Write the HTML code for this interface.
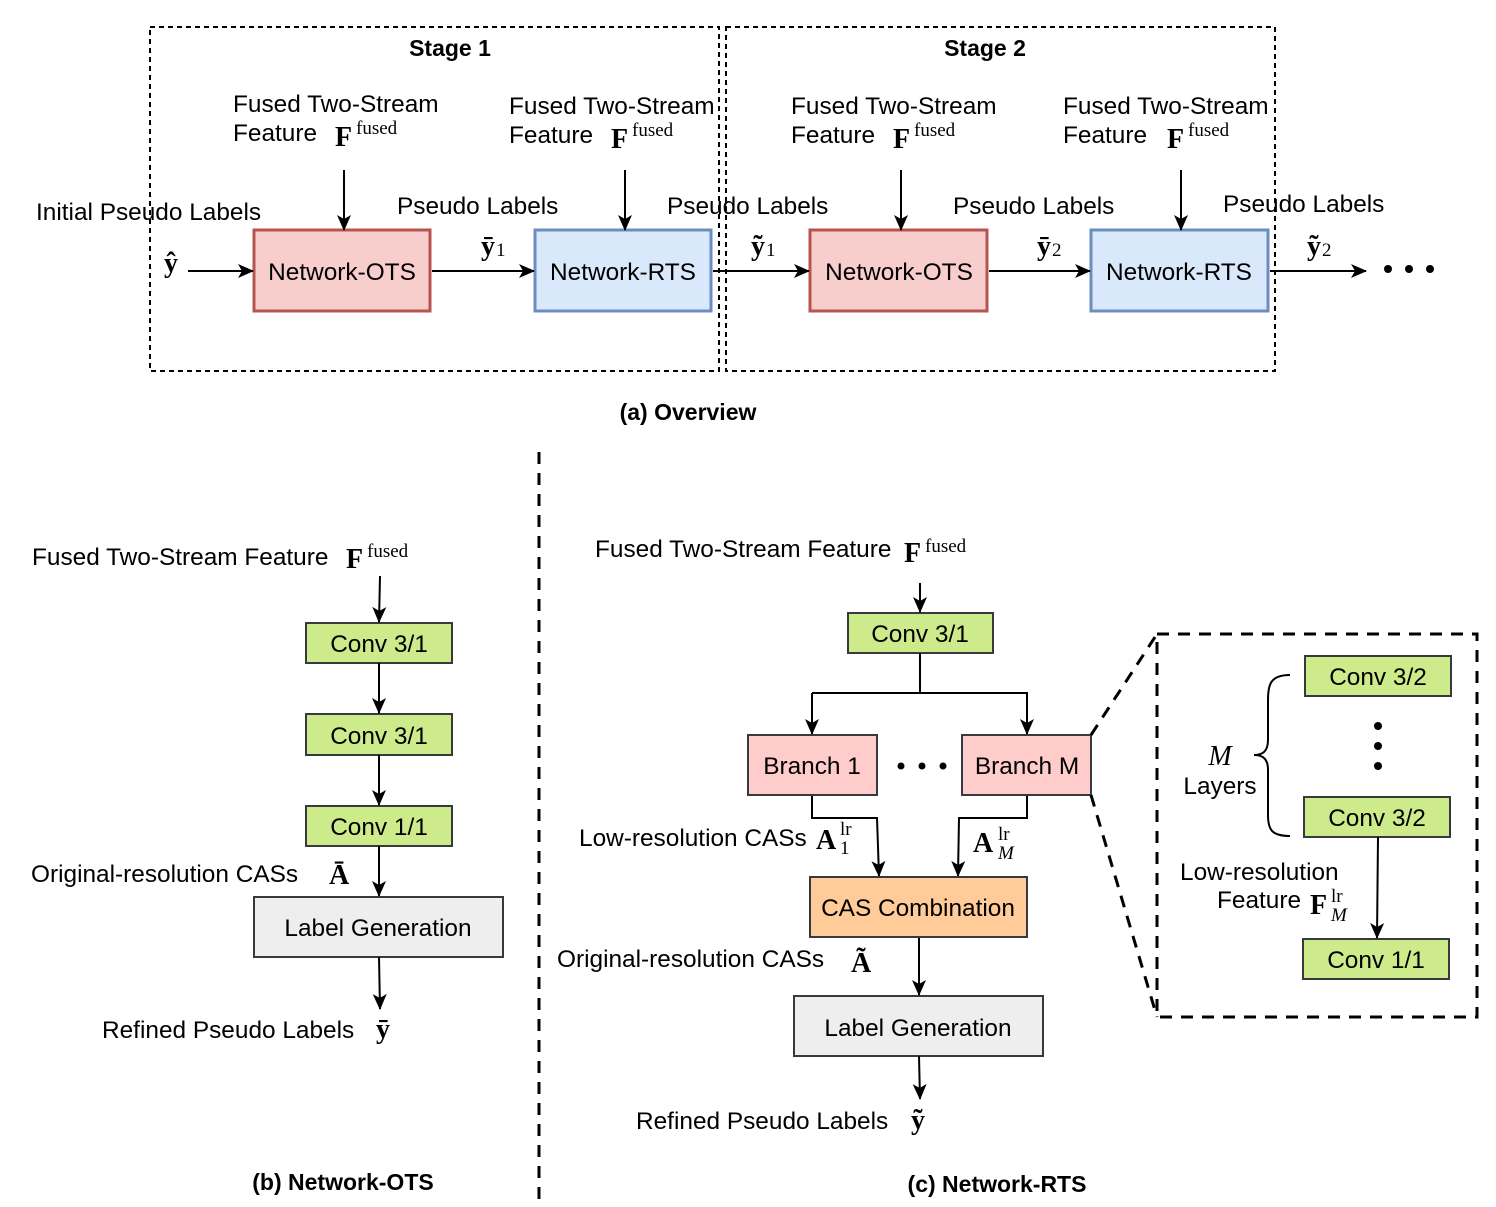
<!DOCTYPE html>
<html><head><meta charset="utf-8"><style>
html,body{margin:0;padding:0;background:#fff;}
svg{display:block;}
text{font-family:"Liberation Sans",sans-serif;font-size:24.4px;fill:#000;}
.m{font-family:"Liberation Serif",serif;font-weight:bold;font-size:28px;}
.s{font-family:"Liberation Serif",serif;font-size:19px;}
.si{font-family:"Liberation Serif",serif;font-size:19px;font-style:italic;}
.b{font-weight:bold;font-size:23px;}
</style></head><body>
<svg width="1496" height="1207" viewBox="0 0 1496 1207" xmlns="http://www.w3.org/2000/svg">
<defs>
<marker id="a" markerWidth="16" markerHeight="16" refX="15" refY="8" orient="auto" markerUnits="userSpaceOnUse">
<path d="M0,1 L16,8 L0,15 L4,8 Z" fill="#000"/></marker>
</defs>
<g fill="none" stroke="#000" stroke-width="2" stroke-dasharray="5,4">
<rect x="150" y="27" width="569" height="344"/>
<rect x="726" y="27" width="549" height="344"/>
</g>
<text x="450" y="56" text-anchor="middle" class="b">Stage 1</text>
<text x="985" y="56" text-anchor="middle" class="b">Stage 2</text>

<text x="233" y="112">Fused Two-Stream</text>
<text x="233" y="141">Feature</text>
<text x="335" y="146" class="m">F</text><text x="356" y="134" class="s">fused</text>
<text x="509" y="114">Fused Two-Stream</text>
<text x="509" y="143">Feature</text>
<text x="611" y="148" class="m">F</text><text x="632" y="136" class="s">fused</text>
<text x="791" y="114">Fused Two-Stream</text>
<text x="791" y="143">Feature</text>
<text x="893" y="148" class="m">F</text><text x="914" y="136" class="s">fused</text>
<text x="1063" y="114">Fused Two-Stream</text>
<text x="1063" y="143">Feature</text>
<text x="1167" y="148" class="m">F</text><text x="1188" y="136" class="s">fused</text>

<text x="36" y="220">Initial Pseudo Labels</text>
<text x="397" y="214">Pseudo Labels</text>
<text x="667" y="214">Pseudo Labels</text>
<text x="953" y="214">Pseudo Labels</text>
<text x="1223" y="212">Pseudo Labels</text>

<text x="164" y="272" class="m">ŷ</text>
<text x="481" y="255" class="m">ȳ</text><text x="496" y="256" class="s">1</text>
<text x="751" y="255" class="m">ỹ</text><text x="766" y="256" class="s">1</text>
<text x="1037" y="255" class="m">ȳ</text><text x="1052" y="256" class="s">2</text>
<text x="1307" y="255" class="m">ỹ</text><text x="1322" y="256" class="s">2</text>

<g stroke-width="3">
<rect x="254" y="230" width="176" height="81" fill="#f8cecc" stroke="#b85450"/>
<rect x="535" y="230" width="176" height="81" fill="#dae8fc" stroke="#6c8ebf"/>
<rect x="810" y="230" width="177" height="81" fill="#f8cecc" stroke="#b85450"/>
<rect x="1091" y="230" width="177" height="81" fill="#dae8fc" stroke="#6c8ebf"/>
</g>
<text x="342" y="280" text-anchor="middle">Network-OTS</text>
<text x="623" y="280" text-anchor="middle">Network-RTS</text>
<text x="899" y="280" text-anchor="middle">Network-OTS</text>
<text x="1179" y="280" text-anchor="middle">Network-RTS</text>

<g stroke="#000" stroke-width="2" marker-end="url(#a)">
<line x1="188" y1="271" x2="253" y2="271"/>
<line x1="432" y1="271" x2="534" y2="271"/>
<line x1="713" y1="271" x2="809" y2="271"/>
<line x1="989" y1="271" x2="1090" y2="271"/>
<line x1="1270" y1="271" x2="1366" y2="271"/>
<line x1="344" y1="170" x2="344" y2="230"/>
<line x1="625" y1="170" x2="625" y2="230"/>
<line x1="901" y1="170" x2="901" y2="230"/>
<line x1="1181" y1="170" x2="1181" y2="230"/>
</g>
<circle cx="1388" cy="269" r="4"/><circle cx="1409" cy="269" r="4"/><circle cx="1430" cy="269" r="4"/>
<text x="688" y="420" text-anchor="middle" class="b">(a) Overview</text>

<line x1="539" y1="452" x2="539" y2="1207" stroke="#000" stroke-width="3" stroke-dasharray="12,9"/>

<text x="32" y="565">Fused Two-Stream Feature</text>
<text x="346" y="568" class="m">F</text><text x="367" y="557" class="s">fused</text>
<g stroke="#36393d" stroke-width="2" fill="#cdeb8b">
<rect x="306" y="623" width="146" height="40"/>
<rect x="306" y="714" width="146" height="41"/>
<rect x="306" y="806" width="146" height="40"/>
<rect x="848" y="613" width="145" height="40"/>
<rect x="1305" y="656" width="146" height="40"/>
<rect x="1304" y="797" width="146" height="40"/>
<rect x="1303" y="939" width="146" height="40"/>
</g>
<rect x="254" y="897" width="249" height="60" fill="#eeeeee" stroke="#36393d" stroke-width="2"/>
<rect x="794" y="996" width="249" height="60" fill="#eeeeee" stroke="#36393d" stroke-width="2"/>
<text x="379" y="652" text-anchor="middle">Conv 3/1</text>
<text x="379" y="744" text-anchor="middle">Conv 3/1</text>
<text x="379" y="835" text-anchor="middle">Conv 1/1</text>
<text x="378" y="936" text-anchor="middle">Label Generation</text>
<text x="31" y="882">Original-resolution CASs</text>
<text x="329" y="884" class="m">Ā</text>
<text x="102" y="1038">Refined Pseudo Labels</text>
<text x="376" y="1038" class="m">ȳ</text>
<text x="343" y="1190" text-anchor="middle" class="b">(b) Network-OTS</text>
<g stroke="#000" stroke-width="2" marker-end="url(#a)">
<line x1="380" y1="576" x2="379" y2="622"/>
<line x1="379" y1="663" x2="379" y2="713"/>
<line x1="379" y1="755" x2="379" y2="805"/>
<line x1="379" y1="846" x2="379" y2="896"/>
<line x1="379" y1="957" x2="380" y2="1009"/>
</g>

<text x="595" y="557">Fused Two-Stream Feature</text>
<text x="904" y="562" class="m">F</text><text x="925" y="552" class="s">fused</text>
<text x="920" y="642" text-anchor="middle">Conv 3/1</text>
<g stroke="#000" stroke-width="2" fill="none">
<polyline points="920,653 920,693"/>
<polyline points="812,693 1027,693 1027,734" marker-end="url(#a)"/>
<line x1="812" y1="693" x2="812" y2="734" marker-end="url(#a)"/>
<line x1="920" y1="583" x2="920" y2="612" marker-end="url(#a)"/>
<polyline points="812,795 812,818 877,818 879,876" marker-end="url(#a)"/>
<polyline points="1027,795 1027,818 959,818 958,876" marker-end="url(#a)"/>
<line x1="919" y1="937" x2="919" y2="995" marker-end="url(#a)"/>
<line x1="919" y1="1056" x2="920" y2="1099" marker-end="url(#a)"/>
<line x1="1378" y1="837" x2="1377" y2="938" marker-end="url(#a)"/>
<path d="M1290,675 C1270,675 1268,685 1268,700 L1268,740 C1268,752 1262,755 1254,755 C1262,755 1268,758 1268,770 L1268,815 C1268,830 1272,836 1290,836"/>
</g>
<g stroke="#36393d" stroke-width="2" fill="#ffcccc">
<rect x="748" y="735" width="129" height="60"/>
<rect x="962" y="735" width="129" height="60"/>
</g>
<rect x="810" y="877" width="217" height="60" fill="#ffcc99" stroke="#36393d" stroke-width="2"/>
<text x="812" y="774" text-anchor="middle">Branch 1</text>
<text x="1027" y="774" text-anchor="middle">Branch M</text>
<circle cx="901" cy="766" r="3.5"/><circle cx="922" cy="766" r="3.5"/><circle cx="943" cy="766" r="3.5"/>
<text x="918" y="916" text-anchor="middle">CAS Combination</text>
<text x="918" y="1036" text-anchor="middle">Label Generation</text>
<text x="579" y="846">Low-resolution CASs</text>
<text x="816" y="849" class="m">A</text><text x="840" y="835" class="s">lr</text><text x="840" y="854" class="s">1</text>
<text x="973" y="852" class="m">A</text><text x="998" y="840" class="s">lr</text><text x="998" y="859" class="si">M</text>
<text x="557" y="967">Original-resolution CASs</text>
<text x="851" y="972" class="m">Ã</text>
<text x="636" y="1129">Refined Pseudo Labels</text>
<text x="911" y="1129" class="m">ỹ</text>
<text x="997" y="1192" text-anchor="middle" class="b">(c) Network-RTS</text>

<g stroke="#000" stroke-width="3" stroke-dasharray="12,9" fill="none">
<rect x="1157" y="634" width="320" height="383"/>
<line x1="1091" y1="735" x2="1157" y2="634"/>
<line x1="1091" y1="795" x2="1157" y2="1017"/>
</g>
<text x="1378" y="685" text-anchor="middle">Conv 3/2</text>
<text x="1377" y="826" text-anchor="middle">Conv 3/2</text>
<text x="1376" y="968" text-anchor="middle">Conv 1/1</text>
<circle cx="1378" cy="726" r="4"/><circle cx="1378" cy="746" r="4"/><circle cx="1378" cy="766" r="4"/>
<text x="1220" y="765" text-anchor="middle" style="font-family:'Liberation Serif',serif;font-style:italic;font-size:28px">M</text>
<text x="1220" y="794" text-anchor="middle">Layers</text>
<text x="1180" y="880">Low-resolution</text>
<text x="1217" y="908">Feature</text>
<text x="1310" y="914" class="m">F</text><text x="1331" y="902" class="s">lr</text><text x="1331" y="921" class="si">M</text>
</svg>
</body></html>
